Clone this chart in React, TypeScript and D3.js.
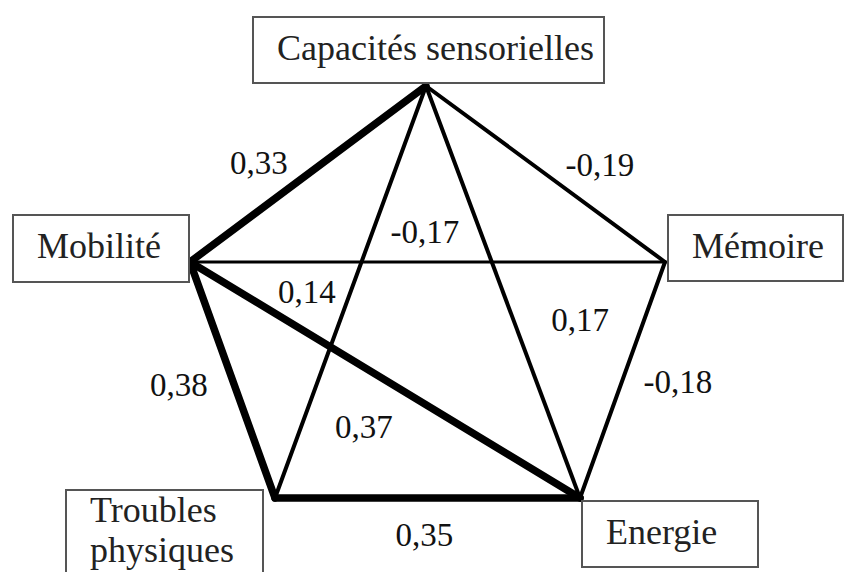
import * as d3 from "d3";
import { useEffect, useRef } from "react";

// noeuds du graphe
const nodeIds = ["cap", "mob", "mem", "tro", "ene"];
const nodeLabels: string[][] = [["Capacités sensorielles"], ["Mobilité"], ["Mémoire"], ["Troubles", "physiques"], ["Energie"]];

// liens (corrélations)
const edgeSource = ["cap", "cap", "cap", "cap", "mob", "mob", "mob", "mem", "tro"];
const edgeTarget = ["mob", "mem", "tro", "ene", "mem", "tro", "ene", "ene", "ene"];
const edgeValues = [0.33, -0.19, -0.17, 0.17, 0.14, 0.38, 0.37, -0.18, 0.35];

// mise en page (sommets du pentagone + cadres)
const layout: Record<string, { x: number; y: number; bx: number; by: number; bw: number; bh: number }> = {
  cap: { x: 426, y: 86, bx: 253, by: 17, bw: 351, bh: 66 },
  mob: { x: 190, y: 262, bx: 13, by: 215, bw: 176, bh: 67 },
  mem: { x: 665, y: 262, bx: 668, by: 215, bw: 175, bh: 66 },
  tro: { x: 275, y: 498, bx: 66, by: 490, bw: 197, bh: 95 },
  ene: { x: 580, y: 498, bx: 582, by: 501, bw: 176, bh: 66 },
};
// position des étiquettes : fraction le long du lien + décalage
const labelPlace: [number, number, number][] = [
  [0.708, 0, -48],
  [0.728, 0, -50],
  [0.352, 52, 0],
  [0.566, 67, 0],
  [0.246, 0, 29],
  [0.517, -55, 0],
  [0.446, 0, 59],
  [0.508, 56, 0],
  [0.49, 0, 36],
];

const FONT = "Liberation Serif, Times New Roman, DejaVu Serif, serif";

const App = () => {
  const ref = useRef<SVGSVGElement | null>(null);

  useEffect(() => {
    document.body.style.margin = "0";
    if (!ref.current) return;
    const svg = d3.select(ref.current);
    svg.selectAll("*").remove();

    const widthScale = d3.scaleThreshold<number, number>().domain([0.15, 0.3]).range([3, 4, 7.5]);
    const fmt = (v: number) => d3.format(".2f")(v).replace(".", ",").replace("−", "-");

    const edges = edgeValues.map((v, i) => ({
      s: layout[edgeSource[i]],
      t: layout[edgeTarget[i]],
      v,
      place: labelPlace[i],
    }));

    // liens
    svg
      .append("g")
      .selectAll("line")
      .data(edges)
      .join("line")
      .attr("x1", (d) => d.s.x)
      .attr("y1", (d) => d.s.y)
      .attr("x2", (d) => d.t.x)
      .attr("y2", (d) => d.t.y)
      .attr("stroke", "#000")
      .attr("stroke-linecap", "round")
      .attr("stroke-width", (d) => widthScale(Math.abs(d.v)));

    // valeurs
    svg
      .append("g")
      .selectAll("text")
      .data(edges)
      .join("text")
      .attr("x", (d) => d.s.x + (d.t.x - d.s.x) * d.place[0] + d.place[1])
      .attr("y", (d) => d.s.y + (d.t.y - d.s.y) * d.place[0] + d.place[2])
      .attr("dy", "0.35em")
      .attr("text-anchor", "middle")
      .attr("font-family", FONT)
      .attr("font-size", 33)
      .attr("fill", "#111")
      .text((d) => fmt(d.v));

    // cadres des noeuds
    const nodes = svg
      .append("g")
      .selectAll("g")
      .data(nodeIds.map((id, i) => ({ id, lines: nodeLabels[i], ...layout[id] })))
      .join("g");

    nodes
      .append("rect")
      .attr("x", (d) => d.bx)
      .attr("y", (d) => d.by)
      .attr("width", (d) => d.bw)
      .attr("height", (d) => d.bh)
      .attr("fill", "#fff")
      .attr("stroke", "#555")
      .attr("stroke-width", 2);

    nodes
      .append("text")
      .attr("font-family", FONT)
      .attr("font-size", 36)
      .attr("fill", "#222")
      .selectAll("tspan")
      .data((d) =>
        d.lines.map((l, j) => ({
          l,
          x: d.bx + 24,
          y: d.lines.length > 1 ? d.by + 32 + j * 40 : d.by + 43,
        }))
      )
      .join("tspan")
      .attr("x", (d) => d.x)
      .attr("y", (d) => d.y)
      .text((d) => d.l);
  }, []);

  return <svg ref={ref} width={855} height={572} style={{ display: "block", background: "#fff" }} />;
};

export default App;
